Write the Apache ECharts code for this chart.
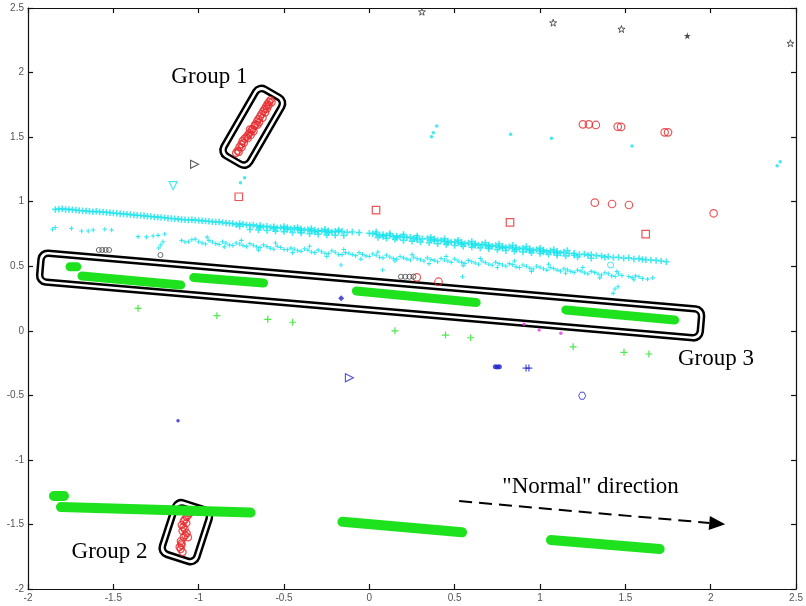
<!DOCTYPE html>
<html><head><meta charset="utf-8">
<script src="https://cdn.jsdelivr.net/npm/echarts@6/dist/echarts.min.js"></script>
<style>html,body{margin:0;padding:0;background:#fff}#c{width:806px;height:606px}</style>
</head><body><div id="c"></div>
<script>
// ---------- tick values ----------
const xTicks = [-2, -1.5, -1, -0.5, 0, 0.5, 1, 1.5, 2, 2.5];
const yTicks = [-2, -1.5, -1, -0.5, 0, 0.5, 1, 1.5, 2, 2.5];

// ---------- green bands (segment endpoints x1,y1,x2,y2) ----------
const greenGroup3 = [
  [-1.754, 0.496, -1.714, 0.496],
  [-1.684, 0.424, -1.105, 0.354],
  [-1.029, 0.412, -0.620, 0.370],
  [-0.076, 0.308, 0.626, 0.219],
  [1.151, 0.161, 1.789, 0.083]
];
const greenBottom = [
  [-1.848, -1.280, -1.789, -1.280],
  [-1.807, -1.365, -0.696, -1.408],
  [-0.158, -1.479, 0.543, -1.561],
  [1.064, -1.621, 1.701, -1.690]
];
const greenPlus = [[-1.355,0.174],[-0.893,0.117],[-0.595,0.089],[-0.449,0.066],[0.150,0.0],[0.446,-0.033],[0.594,-0.054],[1.194,-0.124],[1.492,-0.167],[1.638,-0.180]];

// ---------- red ----------
const redGroup1 = [[-0.781,1.377],[-0.772,1.395],[-0.761,1.423],[-0.750,1.445],[-0.743,1.470],[-0.731,1.488],[-0.720,1.501],[-0.710,1.518],[-0.702,1.532],[-0.690,1.552],[-0.685,1.563],[-0.672,1.588],[-0.667,1.601],[-0.658,1.622],[-0.650,1.640],[-0.640,1.660],[-0.632,1.679],[-0.622,1.700],[-0.614,1.718],[-0.605,1.738],[-0.597,1.756],[-0.588,1.772],[-0.579,1.787],
  [-0.765,1.385],[-0.748,1.420],[-0.735,1.455],[-0.712,1.490],[-0.695,1.515],[-0.678,1.545],[-0.700,1.560],[-0.655,1.595],[-0.645,1.615],[-0.625,1.650],[-0.610,1.690],[-0.600,1.720],[-0.590,1.745],[-0.572,1.770]];
const redGroup2 = [[-1.053,-1.412],[-1.062,-1.428],[-1.070,-1.443],[-1.080,-1.460],[-1.088,-1.474],[-1.100,-1.505],[-1.090,-1.520],[-1.082,-1.536],[-1.070,-1.567],[-1.078,-1.583],[-1.088,-1.598],[-1.105,-1.629],[-1.100,-1.645],[-1.100,-1.660],[-1.105,-1.691],[-1.094,-1.714],
  [-1.072,-1.490],[-1.095,-1.550],[-1.062,-1.600],[-1.112,-1.675]];
const redCircles = [[1.251,1.599],[1.286,1.599],[1.327,1.594],[1.455,1.581],[1.475,1.579],[1.730,1.537],[1.750,1.537],[1.321,0.992],[1.422,0.982],[1.521,0.974],[2.017,0.910],[0.278,0.414],[0.405,0.380]];
const redSquares = [[-0.765,1.038],[0.039,0.935],[0.824,0.840],[1.619,0.749]];

// ---------- cyan ----------
const cyanUpper = [[-1.84,0.940],[-1.80,0.945],[-1.76,0.940],[-1.72,0.935],[-1.68,0.930],[-1.64,0.925],[-1.60,0.925],[-1.56,0.920],[-1.52,0.915],[-1.48,0.910],[-1.44,0.905],[-1.40,0.900],[-1.36,0.895],[-1.32,0.890],[-1.28,0.885],[-1.24,0.880],[-1.20,0.875],[-1.16,0.870],[-1.12,0.865],[-1.08,0.860],[-1.04,0.860],[-1.00,0.855],[-0.96,0.850],[-0.92,0.845],[-0.88,0.845],[-0.84,0.835],[-0.80,0.830],[-0.76,0.830],[-0.76,0.810],[-0.72,0.820],[-0.68,0.820],[-0.64,0.815],[-0.64,0.800],[-0.60,0.810],[-0.56,0.805],[-0.56,0.790],[-0.52,0.800],[-0.48,0.800],[-0.48,0.785],[-0.44,0.795],[-0.40,0.790],[-0.40,0.775],[-0.36,0.785],[-0.32,0.780],[-0.32,0.765],[-0.28,0.775],[-0.24,0.775],[-0.24,0.760],[-0.20,0.770],[-0.16,0.770],[-0.10,0.765],[-0.06,0.760],[0.00,0.755],[0.04,0.750],[0.08,0.745],[0.08,0.730],[0.12,0.740],[0.16,0.735],[0.16,0.720],[0.20,0.730],[0.24,0.725],[0.28,0.720],[0.28,0.705],[0.34,0.715],[0.38,0.710],[0.38,0.695],[0.42,0.700],[0.46,0.695],[0.46,0.680],[0.50,0.690],[0.54,0.685],[0.54,0.670],[0.58,0.680],[0.62,0.675],[0.62,0.660],[0.66,0.670],[0.70,0.665],[0.70,0.650],[0.74,0.660],[0.78,0.655],[0.78,0.640],[0.82,0.650],[0.86,0.645],[0.86,0.630],[0.90,0.640],[0.94,0.635],[0.94,0.620],[0.98,0.630],[1.02,0.625],[1.02,0.610],[1.06,0.620],[1.10,0.615],[1.10,0.600],[1.14,0.610],[1.20,0.600],[1.20,0.585],[1.26,0.595],[1.30,0.590],[1.36,0.580],[1.40,0.575],[1.46,0.570],[1.52,0.565],[1.58,0.560],[1.62,0.550],[1.68,0.545],[1.74,0.535],
  [-1.82,0.942],[-1.78,0.940],[-1.74,0.938],[-1.70,0.932],[-1.66,0.928],[-1.62,0.922],[-1.58,0.920],[-1.54,0.917],[-1.50,0.912],[-1.46,0.906],[-1.42,0.902],[-1.38,0.897],[-1.34,0.893],[-1.30,0.887],[-1.26,0.882],[-1.22,0.878],[-1.18,0.872],[-1.14,0.868],[-1.10,0.862],[-1.06,0.858],[-1.02,0.857],[-0.98,0.852],[-0.94,0.848],[-0.90,0.842],[-0.86,0.838],[-0.82,0.833],[-0.78,0.822],[-0.74,0.825],[-0.70,0.815],[-0.66,0.810],[-0.62,0.806],[-0.58,0.800],[-0.54,0.797],[-0.50,0.792],[-0.46,0.790],[-0.42,0.783],[-0.38,0.780],[-0.34,0.775],[-0.30,0.772],[-0.26,0.768],[-0.22,0.765],[-0.18,0.768],[-0.13,0.762],[0.02,0.752],[0.06,0.740],[0.10,0.738],[0.14,0.728],[0.18,0.727],[0.22,0.720],[0.26,0.715],[0.31,0.712],[0.36,0.703],[0.40,0.700],[0.44,0.690],[0.48,0.688],[0.52,0.680],[0.56,0.675],[0.60,0.668],[0.64,0.665],[0.68,0.658],[0.72,0.655],[0.76,0.648],[0.80,0.645],[0.84,0.638],[0.88,0.633],[0.92,0.628],[0.96,0.623],[1.00,0.618],[1.04,0.613],[1.08,0.608],[1.12,0.603],[1.17,0.598],[1.23,0.590],[1.28,0.585],[1.33,0.582],[1.38,0.570],[1.43,0.568],[1.49,0.562],[1.55,0.556],[1.60,0.553],[1.65,0.548],[1.71,0.540],
  [-0.70,0.785],[-0.65,0.780],[-0.60,0.777],[-0.55,0.772],[-0.50,0.768],[-0.45,0.762],[-0.40,0.758],[-0.35,0.752],[-0.30,0.748],[-0.25,0.742],[-0.20,0.740],[-0.15,0.738],[0.05,0.722],[0.10,0.716],[0.15,0.708],[0.20,0.700],[0.25,0.694],[0.30,0.688],[0.35,0.682],[0.40,0.674],[0.45,0.668],[0.50,0.660],[0.55,0.655],[0.60,0.648],[0.65,0.642],[0.70,0.636],[0.75,0.628],[0.80,0.622],[0.85,0.616],[0.90,0.610],[0.95,0.604],[1.00,0.598],[1.05,0.592],[1.10,0.585],[1.15,0.580],[1.22,0.572],[1.30,0.562],
  [-0.50,0.808],[-0.42,0.800],[-0.34,0.792],[-0.26,0.786],[-0.18,0.780],[0.04,0.765],[0.12,0.754],[0.20,0.745],[0.28,0.735],[0.36,0.725],[0.44,0.712],[0.52,0.702],[0.60,0.692],[0.68,0.682],[0.76,0.672],[0.84,0.662],[0.92,0.652],[1.00,0.640],[1.08,0.630],[1.16,0.622]];
const cyanLower = [[-1.856,0.786],[-1.840,0.800],[-1.745,0.793],[-1.686,0.773],[-1.647,0.773],[-1.618,0.780],[-1.550,0.786],[-1.510,0.780],[-1.355,0.729],[-1.306,0.727],[-1.267,0.734],[-1.238,0.739],[-1.199,0.749],[-1.209,0.690],[-1.222,0.664],[-1.234,0.641],[-1.10,0.700],[-1.06,0.690],[-1.02,0.710],[-0.98,0.680],[-0.94,0.700],[-0.90,0.675],[-0.86,0.690],[-0.82,0.665],[-0.78,0.680],[-0.74,0.660],[-0.70,0.675],[-0.66,0.650],[-0.62,0.665],[-0.58,0.640],[-0.54,0.655],[-0.50,0.630],[-0.46,0.640],[-0.42,0.620],[-0.38,0.635],[-0.34,0.610],[-0.30,0.625],[-0.26,0.600],[-0.22,0.620],[-0.18,0.590],[-0.14,0.605],[-0.10,0.590],[-0.06,0.605],[-0.02,0.580],[0.02,0.595],[0.06,0.570],[0.10,0.585],[0.14,0.560],[0.18,0.575],[0.22,0.555],[0.26,0.570],[0.30,0.550],[0.34,0.565],[0.38,0.545],[0.42,0.560],[0.46,0.540],[0.50,0.555],[0.54,0.530],[0.58,0.545],[0.62,0.525],[0.66,0.540],[0.70,0.515],[0.74,0.530],[0.78,0.510],[0.82,0.520],[0.86,0.495],[0.90,0.510],[0.94,0.485],[0.98,0.500],[1.02,0.480],[1.06,0.490],[1.10,0.470],[1.14,0.480],[1.18,0.460],[1.22,0.470],[1.26,0.450],[1.30,0.460],[1.34,0.440],[1.38,0.450],[1.42,0.425],[1.46,0.440],[1.52,0.420],[1.56,0.425],[1.60,0.405],[1.66,0.410],[-0.166,0.509],[0.078,0.471],[0.546,0.419],[1.439,0.323],[1.457,0.341],[1.429,0.290],
  [-1.08,0.688],[-1.04,0.705],[-1.00,0.690],[-0.96,0.672],[-0.92,0.688],[-0.88,0.668],[-0.84,0.680],[-0.80,0.660],[-0.76,0.672],[-0.72,0.652],[-0.68,0.662],[-0.64,0.645],[-0.60,0.652],[-0.56,0.632],[-0.52,0.645],[-0.48,0.628],[-0.44,0.632],[-0.40,0.615],[-0.36,0.625],[-0.32,0.605],[-0.28,0.612],[-0.24,0.598],[-0.20,0.608],[-0.16,0.590],[-0.12,0.600],[-0.08,0.582],[-0.04,0.592],[0.00,0.575],[0.04,0.585],[0.08,0.565],[0.12,0.572],[0.16,0.555],[0.20,0.565],[0.24,0.548],[0.28,0.558],[0.32,0.540],[0.36,0.552],[0.40,0.535],[0.44,0.548],[0.48,0.530],[0.52,0.540],[0.56,0.522],[0.60,0.535],[0.64,0.515],[0.68,0.528],[0.72,0.508],[0.76,0.520],[0.80,0.500],[0.84,0.512],[0.88,0.490],[0.92,0.500],[0.96,0.478],[1.00,0.492],[1.04,0.470],[1.08,0.482],[1.12,0.462],[1.16,0.472],[1.20,0.452],[1.24,0.462],[1.28,0.442],[1.32,0.452],[1.36,0.432],[1.40,0.442],[1.44,0.420],[1.48,0.428],[1.54,0.412],[1.58,0.418],[1.63,0.400],
  [-0.95,0.725],[-0.85,0.650],[-0.75,0.700],[-0.65,0.625],[-0.55,0.680],[-0.45,0.605],[-0.35,0.655],[-0.25,0.575],[-0.15,0.630],[-0.05,0.555],[0.05,0.610],[0.15,0.540],[0.25,0.590],[0.35,0.520],[0.45,0.575],[0.55,0.505],[0.65,0.560],[0.75,0.490],[0.85,0.540],[0.95,0.460],[1.05,0.515],[1.15,0.445],[1.25,0.490],[1.35,0.410],[1.45,0.460],[1.55,0.395]];
const cyanDots = [[-0.731,1.186],[-0.755,1.147],[0.395,1.586],[0.375,1.534],[0.364,1.503],[0.828,1.522],[1.067,1.491],[1.539,1.431],[2.389,1.278],[2.407,1.309]];
const cyanTriDown = [[-1.150,1.124]];
const cyanRing = [[1.413,0.509]];

// ---------- black ----------
const blackStars = [[0.308,2.471],[1.077,2.386],[1.477,2.337],[2.467,2.227]];
const blackStarFilled = [[1.863,2.285]];
const blackTriRight = [[-1.024,1.289]];
const blackSmallCircles = [[-1.585,0.626],[-1.565,0.626],[-1.545,0.626],[-1.525,0.626],[-1.224,0.587],[0.185,0.419],[0.210,0.419],[0.235,0.419],[0.258,0.419]];

// ---------- blue / magenta ----------
const blueDots = [[-1.121,-0.697]];
const blueDiamond = [[-0.165,0.251]];
const blueTriRight = [[-0.117,-0.364]];
const blueBlob = [[0.738,-0.279],[0.750,-0.281],[0.762,-0.279]];
const bluePlus = [[0.918,-0.289],[0.935,-0.289]];
const blueHex = [[1.247,-0.503]];
const magentaDots = [[0.906,0.050],[0.995,0.006],[1.122,-0.020]];

// ---------- annotations ----------
const groupBoxes = [
  {cx:-0.683, cy:1.580, len:82, wid:35, angle:60},
  {cx:-1.075, cy:-1.560, len:59, wid:41, angle:72},
  {cx:0.0075, cy:0.273, len:668, wid:34, angle:-4.92}
];
const labels = [
  {text:'Group 1', x:-1.160, y:1.966},
  {text:'Group 2', x:-1.745, y:-1.714},
  {text:'Group 3', x:1.808, y:-0.219},
  {text:'"Normal" direction', x:0.779, y:-1.210}
];
const arrowFrom = [0.526, -1.319];
const arrowTo = [2.085, -1.499];

// ---------- colours ----------
const RED = '#e52a2e', CYAN = '#17e3ec', GREEN = '#1fe21f', BLUE = '#2424d0', MAG = '#de3ade';
const PLUS = 'path://M5,0 L5,10 M0,5 L10,5';
const STAR = 'path://M5,0 L6.2,3.6 L10,3.6 L7,5.9 L8.1,9.5 L5,7.3 L1.9,9.5 L3,5.9 L0,3.6 L3.8,3.6 Z';
const TRI_R = 'path://M0,0 L10,5 L0,10 Z';
const TRI_D = 'path://M0,0 L10,0 L5,10 Z';
const HEX = 'path://M2.5,0 L7.5,0 L10,5 L7.5,10 L2.5,10 L0,5 Z';

function sc(data, symbol, size, color, filled, bw, extra) {
  return Object.assign({
    type:'scatter', data, symbol, symbolSize:size, silent:true,
    itemStyle: filled ? {color, borderWidth:0} : {color:'rgba(0,0,0,0)', borderColor:color, borderWidth:bw||1.2}
  }, extra||{});
}
function bands(list, width) {
  return list.map(s => ({
    type:'line', data:[[s[0],s[1]],[s[2],s[3]]], symbol:'none', silent:true,
    lineStyle:{color:GREEN, width, cap:'round'}
  }));
}

const chart = echarts.init(document.getElementById('c'), null, {renderer:'canvas'});
const axisCommon = {
  type:'value', min:xTicks[0], max:xTicks[xTicks.length-1], interval:xTicks[1]-xTicks[0],
  axisLine:{onZero:false, lineStyle:{color:'#111', width:1.2}},
  axisTick:{inside:true, length:5, lineStyle:{color:'#111', width:1.2}},
  splitLine:{show:false}
};
const labelStyle = {color:'#555', fontSize:10, fontFamily:'Liberation Sans'};
const option = {
  animation:false,
  backgroundColor:'#fff',
  grid:{left:28, right:8, top:8, bottom:17, containLabel:false},
  xAxis:[
    Object.assign({}, axisCommon, {position:'bottom', axisLabel:Object.assign({margin:4, showMinLabel:true, showMaxLabel:true}, labelStyle)}),
    Object.assign({}, axisCommon, {position:'top', axisLabel:{show:false}})
  ],
  yAxis:[
    Object.assign({}, axisCommon, {min:yTicks[0], max:yTicks[yTicks.length-1], interval:yTicks[1]-yTicks[0], position:'left', axisLabel:Object.assign({margin:4, showMinLabel:true, showMaxLabel:true}, labelStyle)}),
    Object.assign({}, axisCommon, {min:yTicks[0], max:yTicks[yTicks.length-1], interval:yTicks[1]-yTicks[0], position:'right', axisLabel:{show:false}})
  ],
  series: [].concat(
    bands(greenGroup3, 9),
    bands(greenBottom, 10),
    [
      sc(cyanLower, PLUS, 4.5, CYAN, false, 1, {itemStyle:{color:'rgba(0,0,0,0)', borderColor:CYAN, borderWidth:1.1, opacity:0.85}}),
      sc(cyanUpper, PLUS, 6.5, CYAN, false, 1.6),
      sc(cyanDots, 'circle', 3.5, CYAN, true),
      sc(cyanTriDown, TRI_D, 8, CYAN, false, 1.2),
      sc(cyanRing, 'circle', 6, CYAN, false, 1),
      sc(greenPlus, PLUS, 7, GREEN, false, 1.2),
      sc(redGroup1, 'circle', 7, RED, false, 1.3),
      sc(redGroup2, 'circle', 7, RED, false, 1.3),
      sc(redCircles, 'circle', 7.5, RED, false, 1.2),
      sc(redSquares, 'rect', 7.5, RED, false, 1.2),
      sc(blackStars, STAR, 7, '#333', false, 1),
      sc(blackStarFilled, STAR, 7, '#222', true),
      sc(blackTriRight, TRI_R, 8, '#333', false, 1.1),
      sc(blackSmallCircles, 'circle', 5, '#333', false, 0.9),
      sc(blueDots, 'circle', 3.5, BLUE, true),
      sc(blueDiamond, 'diamond', 6, BLUE, true),
      sc(blueTriRight, TRI_R, 8, BLUE, false, 1.1),
      sc(blueBlob, 'circle', 5, BLUE, true),
      sc(bluePlus, PLUS, 7, BLUE, false, 1.2),
      sc(blueHex, HEX, 7, BLUE, false, 1),
      sc(magentaDots, 'circle', 3.5, MAG, true)
    ]
  )
};
chart.setOption(option);

// ---------- annotations placed through the data coordinate system ----------
const toPx = p => chart.convertToPixel({xAxisIndex:0, yAxisIndex:0}, p);
const elements = [];
groupBoxes.forEach(b => {
  const c = toPx([b.cx, b.cy]);
  elements.push({
    type:'group', x:c[0], y:c[1], rotation:b.angle*Math.PI/180, silent:true, z:100,
    children:[
      {type:'rect', shape:{x:-b.len/2, y:-b.wid/2, width:b.len, height:b.wid, r:9}, style:{fill:'none', stroke:'#000', lineWidth:2.5}},
      {type:'rect', shape:{x:-b.len/2+5, y:-b.wid/2+5, width:b.len-10, height:b.wid-10, r:5}, style:{fill:'none', stroke:'#000', lineWidth:2.5}}
    ]
  });
});
labels.forEach(l => {
  const p = toPx([l.x, l.y]);
  elements.push({type:'text', x:p[0], y:p[1], z:100, silent:true,
    style:{text:l.text, fill:'#000', font:'23px "Liberation Serif"', textAlign:'left', textVerticalAlign:'middle'}});
});
(function(){
  const a = toPx(arrowFrom), b = toPx(arrowTo);
  const ang = Math.atan2(b[1]-a[1], b[0]-a[0]);
  const hl = 16, hw = 7;
  const bx = b[0] - hl*Math.cos(ang), by = b[1] - hl*Math.sin(ang);
  elements.push({type:'line', z:100, silent:true, shape:{x1:a[0], y1:a[1], x2:bx, y2:by},
    style:{stroke:'#000', lineWidth:2, lineDash:[13,7]}});
  elements.push({type:'polygon', z:100, silent:true, shape:{points:[
    [b[0], b[1]],
    [bx + hw*Math.sin(ang), by - hw*Math.cos(ang)],
    [bx - hw*Math.sin(ang), by + hw*Math.cos(ang)]
  ]}, style:{fill:'#000'}});
})();
chart.setOption({graphic:{elements}});
</script>
</body></html>
